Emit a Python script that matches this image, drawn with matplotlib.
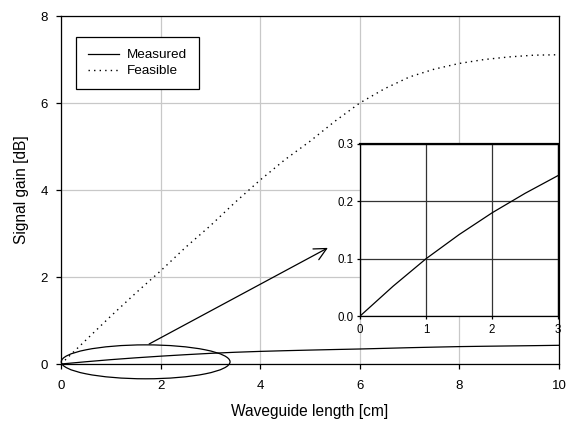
import matplotlib
matplotlib.use("Agg")
import matplotlib.pyplot as plt
from matplotlib.patches import Ellipse

plt.rcParams["font.family"] = ["Liberation Sans", "DejaVu Sans"]

# waveguide length [cm]
length = [0, 0.5, 1, 1.5, 2, 2.5, 3, 3.5, 4, 4.5, 5, 5.5, 6, 6.5, 7, 7.5, 8, 8.5, 9, 9.5, 10]
# signal gain [dB]
measured = [0, 0.052, 0.1, 0.142, 0.18, 0.214, 0.245, 0.27, 0.29, 0.306, 0.32, 0.333, 0.345,
            0.36, 0.375, 0.388, 0.40, 0.408, 0.415, 0.422, 0.43]
feasible = [0, 0.55, 1.1, 1.63, 2.14, 2.68, 3.18, 3.72, 4.23, 4.7, 5.12, 5.58, 6.0,
            6.33, 6.6, 6.78, 6.91, 7.0, 7.06, 7.1, 7.11]

fig = plt.figure(figsize=(5.68, 4.24), dpi=100)
ax = fig.add_axes([0.1074, 0.1415, 0.8766, 0.8207])

ax.plot(length, measured, color="black", lw=0.9, label="Measured")
ax.plot(length, feasible, color="black", lw=1.0, ls=(0, (1, 3)), label="Feasible")
ax.set_xlim(0, 10)
ax.set_ylim(0, 8)
ax.set_xticks([0, 2, 4, 6, 8, 10])
ax.set_yticks([0, 2, 4, 6, 8])
ax.grid(True, color="#c8c8c8", lw=0.9)
ax.set_axisbelow(True)
ax.tick_params(direction="out", length=3.5, width=0.9, labelsize=9.5)
ax.tick_params(axis="x", pad=8)
ax.tick_params(axis="y", pad=6)
for s in ax.spines.values():
    s.set_linewidth(0.9)
ax.set_xlabel("Waveguide length [cm]", fontsize=11.2, labelpad=9)
ax.set_ylabel("Signal gain [dB]", fontsize=11.2, labelpad=8)

leg = ax.legend(loc="upper left", bbox_to_anchor=(0.03, 0.94), fontsize=9.7,
                fancybox=False, edgecolor="black", framealpha=1,
                handlelength=2.3, handletextpad=0.6, borderpad=0.9,
                labelspacing=0.25, borderaxespad=0)
leg.get_frame().set_linewidth(0.9)

# zoom ellipse and arrow
ax.add_patch(Ellipse((1.7, 0.05), 3.39, 0.78, fill=False, ec="black", lw=0.9, clip_on=False))
ax.annotate("", xy=(5.36, 2.67), xytext=(1.77, 0.46),
            arrowprops=dict(arrowstyle="->", color="black", lw=0.9,
                            mutation_scale=22, shrinkA=0, shrinkB=0))

# inset
ins = fig.add_axes([0.634, 0.2547, 0.3486, 0.4057])
ins.plot(length, measured, color="black", lw=0.9)
ins.set_xlim(0, 3)
ins.set_ylim(0, 0.3)
ins.set_xticks([0, 1, 2, 3])
ins.set_yticks([0, 0.1, 0.2, 0.3])
ins.set_yticklabels(["0.0", "0.1", "0.2", "0.3"])
ins.grid(True, color="#333333", lw=0.9)
ins.tick_params(direction="out", length=2, width=0.9, labelsize=8.3, pad=3)
ins.tick_params(axis="x", pad=4)
for s in ins.spines.values():
    s.set_linewidth(0.9)
ins.spines["top"].set_linewidth(1.6)

fig.savefig("out.png", dpi=100)
